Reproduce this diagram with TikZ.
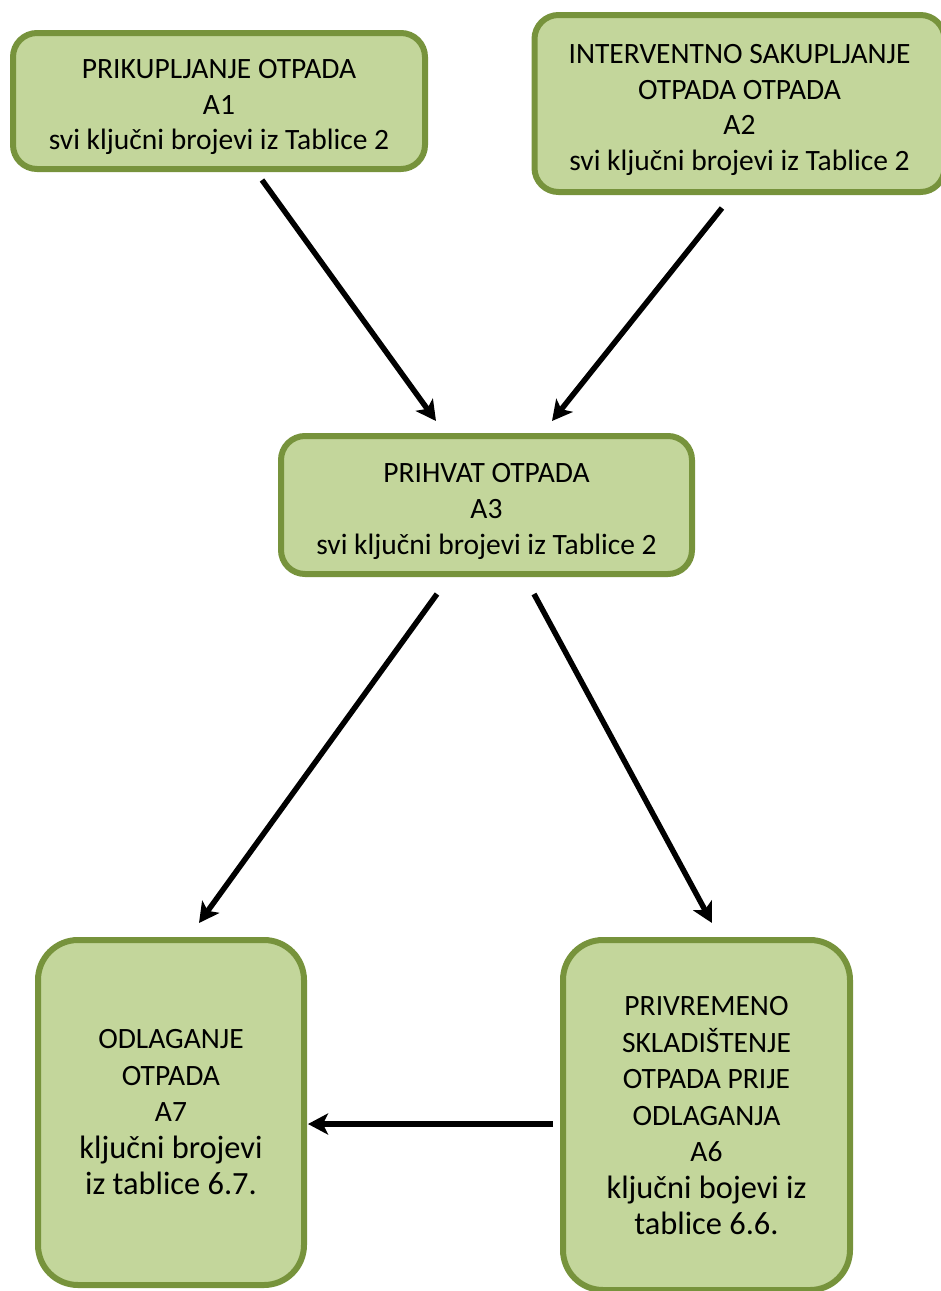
\documentclass[tikz,border=0pt]{standalone}
\usepackage{fontspec}
\setmainfont{Carlito}
\usetikzlibrary{arrows.meta}
\definecolor{boxfill}{HTML}{C3D69B}
\definecolor{boxdraw}{HTML}{77933C}
\tikzset{
  box/.style={draw=boxdraw, fill=boxfill, line width=6pt, rounded corners=24pt, inner sep=0pt},
  tallbox/.style={box, rounded corners=40pt},
  txt/.style={align=center, inner sep=0pt, font=\fontsize{29.5}{35.8}\selectfont},
  talltxt/.style={align=center, inner sep=0pt, font=\fontsize{29.5}{36.5}\selectfont},
  conn/.style={line width=5.5pt, -{Stealth[length=20pt,width=21pt,inset=5pt]}}
}
\newcommand{\lowsz}{\fontsize{32.4}{39}\selectfont}
\begin{document}
\begin{tikzpicture}[x=1pt,y=-1pt]
\useasboundingbox (0,0) rectangle (941,1291);
\node[box, minimum width=412pt, minimum height=136pt] (a1) at (219,101) {};
\node[txt] (a1t) at ([yshift=-6pt]a1.center)
  {PRIKUPLJANJE OTPADA\\A1\\svi ključni brojevi iz Tablice 2};
\node[box, minimum width=410pt, minimum height=177pt] (a2) at (739.5,103.5) {};
\node[txt] (a2t) at ([yshift=-6.5pt]a2.center)
  {INTERVENTNO SAKUPLJANJE\\OTPADA OTPADA\\A2\\svi ključni brojevi iz Tablice 2};
\node[box, minimum width=411pt, minimum height=138pt] (a3) at (486.5,505) {};
\node[txt] (a3t) at ([yshift=-6.5pt]a3.center)
  {PRIHVAT OTPADA\\A3\\svi ključni brojevi iz Tablice 2};
\node[tallbox, minimum width=266pt, minimum height=345pt] (a7) at (171,1112.5) {};
\node[talltxt] (a7t) at ([yshift=0pt]a7.center)
  {ODLAGANJE\\OTPADA\\A7\\{\lowsz ključni brojevi}\\{\lowsz iz tablice 6.7.}};
\node[tallbox, minimum width=287pt, minimum height=350pt] (a6) at (706.5,1115) {};
\node[talltxt] (a6t) at ([yshift=-1pt]a6.center)
  {PRIVREMENO\\SKLADIŠTENJE\\OTPADA PRIJE\\ODLAGANJA\\A6\\{\lowsz ključni bojevi iz}\\{\lowsz tablice 6.6.}};
\coordinate (s1) at (262,180);
\coordinate (e1) at (436,421);
\coordinate (s2) at (722,208);
\coordinate (e2) at (552,421);
\coordinate (s3) at (437,594);
\coordinate (e3) at (199,923);
\coordinate (s4) at (534,594);
\coordinate (e4) at (712,923);
\coordinate (s5) at (553,1124);
\coordinate (e5) at (308,1124);
\draw[conn] (s1) -- (e1);
\draw[conn] (s2) -- (e2);
\draw[conn] (s3) -- (e3);
\draw[conn] (s4) -- (e4);
\draw[conn] (s5) -- (e5);
\end{tikzpicture}
\end{document}
